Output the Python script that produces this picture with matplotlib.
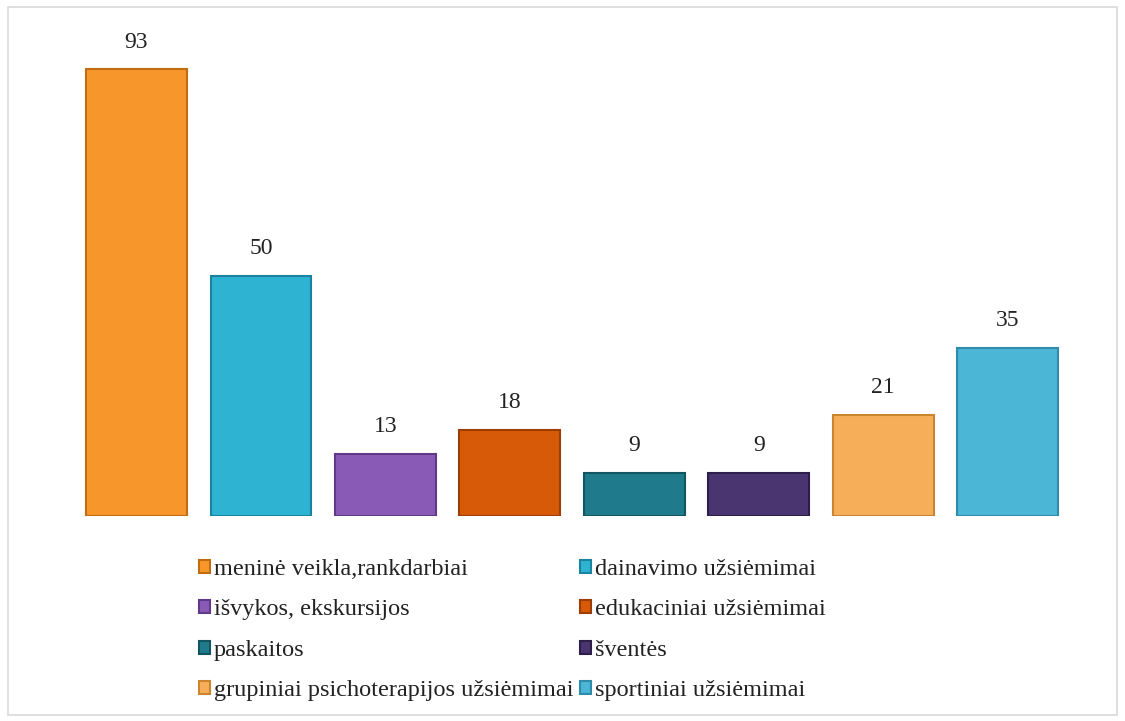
import matplotlib.pyplot as plt
from matplotlib.patches import Rectangle

categories = ['meninė veikla,rankdarbiai', 'dainavimo užsiėmimai',
              'išvykos, ekskursijos', 'edukaciniai užsiėmimai',
              'paskaitos', 'šventės',
              'grupiniai psichoterapijos užsiėmimai', 'sportiniai užsiėmimai']
values = [93, 50, 13, 18, 9, 9, 21, 35]
colors = ['#F7962B', '#2FB3D3', '#8A5BB6', '#D65A08',
          '#1F7B8C', '#4A3570', '#F7AE58', '#4CB6D6']
edges = ['#C06C10', '#1A84A0', '#5E3A88', '#9C3E04',
         '#125460', '#2E1F4A', '#C98530', '#2E8CAA']

plt.rcParams['font.family'] = ['Liberation Serif', 'DejaVu Serif']

fig = plt.figure(figsize=(11.25, 7.21), dpi=100)
fig.patches.append(Rectangle((0.007, 0.008), 0.986, 0.982, transform=fig.transFigure,
                             fill=False, edgecolor='#D9D9D9', linewidth=1.2))
ax = fig.add_axes([0.066, 0.2843, 0.885, 0.666])

x = range(len(values))
bars = ax.bar(x, values, width=0.81, color=colors, edgecolor=edges, linewidth=1.5)
for xi, v in zip(x, values):
    ax.text(xi, v + 3.5, str(v), ha='center', va='bottom', fontsize=17, color='#222222')

ax.set_xlim(-0.5, 7.5)
ax.set_ylim(0, 100)
ax.axis('off')

order = [0, 2, 4, 6, 1, 3, 5, 7]
handles = [bars[i] for i in order]
labels = [categories[i] for i in order]
fig.legend(handles, labels, ncol=2, loc='upper left', bbox_to_anchor=(0.164, 0.245),
           frameon=False, fontsize=17.5, handlelength=0.45, handleheight=0.45,
           handletextpad=0.15, columnspacing=0.3, labelspacing=0.8,
           borderpad=0.1, labelcolor='#222222')

plt.savefig('out.png', dpi=100)
